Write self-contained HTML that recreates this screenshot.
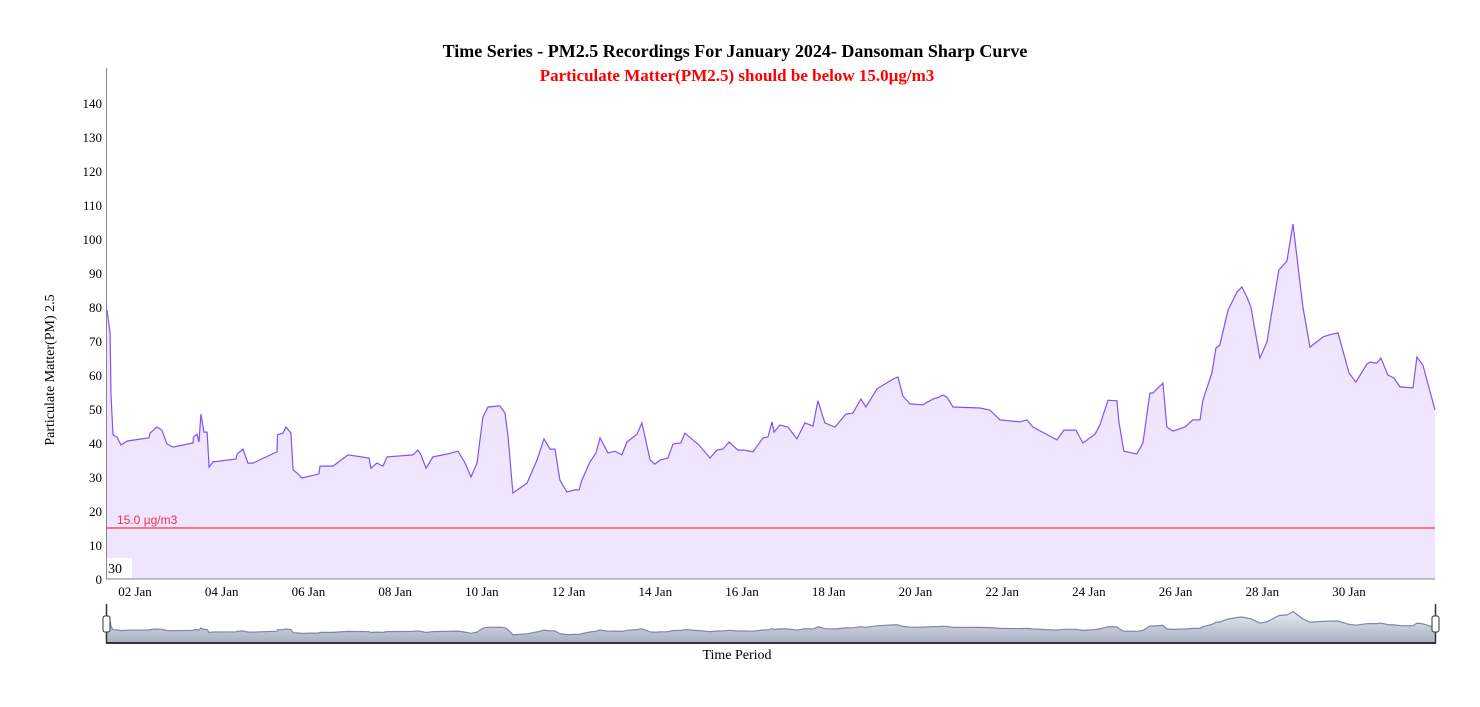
<!DOCTYPE html>
<html><head><meta charset="utf-8"><style>
body{margin:0;background:#fff;}
svg text{font-family:"Liberation Serif",serif;}
</style></head><body>
<svg id="chart" width="1480" height="702" xmlns="http://www.w3.org/2000/svg">
<text x="735" y="57" text-anchor="middle" font-size="18" font-weight="bold" fill="#000">Time Series - PM2.5 Recordings For January 2024- Dansoman Sharp Curve</text>
<text x="737" y="81" text-anchor="middle" font-size="17" font-weight="bold" fill="#ff0000">Particulate Matter(PM2.5) should be below 15.0µg/m3</text>
<text transform="translate(54,370) rotate(-90)" text-anchor="middle" font-size="14" fill="#000">Particulate Matter(PM) 2.5</text>
<text x="737" y="659" text-anchor="middle" font-size="14" fill="#000">Time Period</text>
<g id="yticks"></g>
<g id="xticks"></g>
<path id="area" fill="#efe6fd" stroke="none"/>
<path id="line" fill="none" stroke="#8452f5" stroke-width="1.2"/>
<line id="thresh" stroke="#f0304a" stroke-width="1.3"/>
<text id="threshLabel" x="117" font-size="12" fill="#f0304a" style="font-family:'Liberation Sans',sans-serif">15.0 µg/m3</text>
<line x1="106.5" y1="68" x2="106.5" y2="579" stroke="#888" stroke-width="1"/>
<line x1="106" y1="579" x2="1435" y2="579" stroke="#888" stroke-width="1"/>
<rect x="107" y="558" width="25" height="20" fill="#fff"/>
<text x="108" y="573" font-size="14" fill="#000">30</text>
<defs><linearGradient id="ng" x1="0" y1="0" x2="0" y2="1"><stop offset="0" stop-color="#e8ebf2"/><stop offset="1" stop-color="#a8b0c2"/></linearGradient></defs>
<path id="navArea" fill="url(#ng)" stroke="none"/>
<path id="navLine" fill="none" stroke="#7d89a6" stroke-width="1.2"/>
<line x1="106" y1="643" x2="1436" y2="643" stroke="#333" stroke-width="2"/>
<line x1="106.5" y1="604" x2="106.5" y2="643" stroke="#333" stroke-width="1.5"/>
<line x1="1435.5" y1="604" x2="1435.5" y2="643" stroke="#333" stroke-width="1.5"/>
<rect x="103" y="616" width="7" height="16" rx="2" fill="#fff" stroke="#333"/>
<rect x="1432" y="616" width="7" height="16" rx="2" fill="#fff" stroke="#333"/>
</svg>
<script>
const hours=[8.5,10.2,10.7,11.8,14,16.3,19.6,31.7,32.3,36.2,38.9,41.7,45,56.1,56.4,58.3,59.4,60.5,62.2,63.9,65,67.2,79.9,80.5,83.8,86.5,89.3,102.6,102.9,105.9,107.6,110.3,111.5,113.7,116.4,125.8,126.4,133.6,141.9,153.5,154.6,157.9,161.3,163.5,177.9,180.6,182.3,185.1,188.9,197.2,202.8,206.7,210,213.3,216.6,219.4,226,228.8,230.5,233.2,241,246.5,250.4,253.7,256.5,259.2,263.1,267.5,269.8,271.4,275.8,279.2,281.4,285.8,289.7,293.5,296.3,301.9,304.6,309.1,311.8,314.6,319,321.8,326.2,328.4,336.2,342.3,346.1,349.5,352.8,357.8,361.1,366.1,371.6,374.4,376.6,377.7,381,385.4,390.4,394.8,399.3,402,405.9,411.5,417.5,421.4,425.8,428.6,434.7,443.6,446.3,449.1,453,460.2,461.8,466.8,467.9,471.2,473.4,476.8,491.7,497.2,502.8,513.8,517.7,521,534.3,538.2,544.8,548.7,555.4,558.1,562.6,567.5,568.6,571.4,578.6,581.9,585.8,587.5,590.8,593,595.2,598.5,605.2,609.6,613.5,615.1,620.1,622.3,624.5,629,634,636.7,639.5,641.7,646.7,650.6,652.8,657.2,661.6,665,670.5,674.4,681.6,684.9,689.9,696,699.8,705.9,707.6,711.4,713.7,717.5,720.9,724.2,731.4,733.6,736.9,743.6];
const pm25=[79.1,72.4,54.1,42.4,41.8,39.4,40.6,41.5,42.9,44.7,43.8,39.7,38.8,40,41.8,42.6,40.3,48.5,43.2,43.2,32.9,34.4,35.3,36.8,38.2,34.1,34.1,37.4,42.4,42.9,44.7,42.9,32.1,31.2,29.7,30.9,33.2,33.2,36.5,35.6,32.6,34.1,33.2,35.9,36.5,37.9,36.5,32.6,35.9,36.8,37.6,34.1,30,34.1,47.6,50.6,50.9,48.8,41.8,25.3,28.2,35,41.2,38.2,38.2,29.1,25.6,26.2,26.2,29.1,34.4,37.1,41.5,37.1,37.6,36.5,40.3,42.6,45.9,35,33.8,35,35.6,39.7,40,42.9,39.4,35.6,37.9,38.2,40.3,37.9,37.9,37.4,41.5,41.8,46.2,43.2,45.3,44.7,41.2,45.9,45,52.4,45.9,44.7,48.5,48.8,52.9,50.6,55.9,58.8,59.4,53.8,51.5,51.2,51.8,53.2,53.2,54.1,53.5,50.6,50.3,49.7,46.8,46.2,46.8,44.7,40.9,43.8,43.8,40,42.6,45.3,52.6,52.4,46.2,37.6,36.8,40,54.7,54.7,56.5,57.6,44.7,43.5,44.7,46.8,46.8,52.6,60.6,67.9,68.8,79.1,84.4,85.9,82.9,80,65,69.7,77.1,90.9,93.5,104.4,80,68.2,71.2,71.8,72.4,60.6,57.9,63.2,63.8,63.5,65,60,59.1,56.5,56.2,65.3,62.9,49.7,46.2];
const yTicks=[0,10,20,30,40,50,60,70,80,90,100,110,120,130,140];
const xTickDays=[2,4,6,8,10,12,14,16,18,20,22,24,26,28,30];
const xTickLabels=["02 Jan","04 Jan","06 Jan","08 Jan","10 Jan","12 Jan","14 Jan","16 Jan","18 Jan","20 Jan","22 Jan","24 Jan","26 Jan","28 Jan","30 Jan"];
const threshold=[15];

const NS="http://www.w3.org/2000/svg";
const h0=8.5,h1=743.6,X0=107,X1=1435;
const xs=h=>X0+(h-h0)/(h1-h0)*(X1-X0);
const ys=v=>579-v*3.4;
const nys=v=>642-v*0.29;

let d="",nd="";
hours.forEach((h,i)=>{d+=(i?"L":"M")+xs(h).toFixed(1)+","+ys(pm25[i]).toFixed(1);nd+=(i?"L":"M")+xs(h).toFixed(1)+","+nys(pm25[i]).toFixed(1);});
document.getElementById('line').setAttribute('d',d);
document.getElementById('area').setAttribute('d',d+"L"+xs(hours[hours.length-1]).toFixed(1)+",579L"+xs(hours[0]).toFixed(1)+",579Z");
document.getElementById('navLine').setAttribute('d',nd);
document.getElementById('navArea').setAttribute('d',nd+"L"+xs(hours[hours.length-1]).toFixed(1)+",642L"+xs(hours[0]).toFixed(1)+",642Z");

const t=document.getElementById('thresh');
t.setAttribute('x1',X0);t.setAttribute('x2',X1);t.setAttribute('y1',ys(threshold[0]));t.setAttribute('y2',ys(threshold[0]));
document.getElementById('threshLabel').setAttribute('y',ys(threshold[0])-4);

const yg=document.getElementById('yticks');
yTicks.forEach(v=>{const e=document.createElementNS(NS,'text');


e.setAttribute('x',102);e.setAttribute('y',ys(v)+5);e.setAttribute('text-anchor','end');e.setAttribute('font-size','13');e.textContent=v;yg.appendChild(e);});
const xg=document.getElementById('xticks');
xTickDays.forEach((dd,i)=>{const e=document.createElementNS(NS,'text');


e.setAttribute('x',xs((dd-1)*24));e.setAttribute('y',596);e.setAttribute('text-anchor','middle');e.setAttribute('font-size','13');e.textContent=xTickLabels[i];xg.appendChild(e);});
</script>
</body></html>
